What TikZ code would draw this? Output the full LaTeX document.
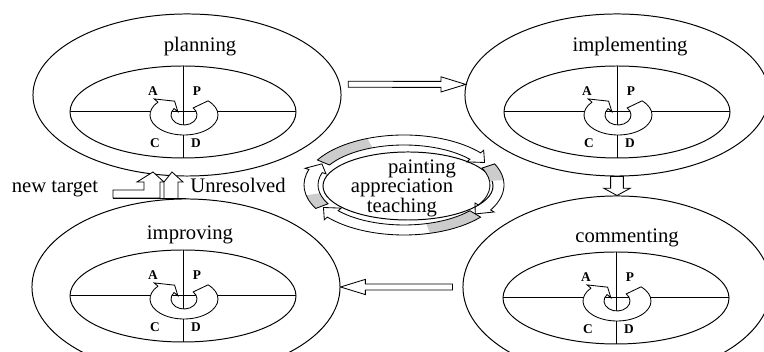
\documentclass[tikz,border=0pt]{standalone}
\usepackage{fontspec}
\setmainfont{Liberation Serif}
\usetikzlibrary{calc,shapes.geometric}

\tikzset{
  shaftw/.store in=\shaftw, shaftw=0.075cm,
  headw/.store in=\headw, headw=0.19cm,
  headlen/.store in=\headl, headlen=0.62cm,
  stage/.style={ellipse,draw,inner sep=0pt,minimum width=7.7cm,minimum height=4.05cm},
  stagename/.style={anchor=base,font=\fontsize{14.7}{17}\selectfont},
  letter/.style={inner sep=0pt,font=\bfseries\fontsize{9.5}{10}\selectfont},
  hollow/.style={line width=0.6pt,fill=white,to path={
      let \p1=(\tikztostart), \p2=(\tikztotarget),
          \n1={atan2(\y2-\y1,\x2-\x1)},
          \p3=($(\p2)!\headl!(\p1)$) in
      ($(\p1)+({\n1+90}:\shaftw)$) -- ($(\p3)+({\n1+90}:\shaftw)$)
      -- ($(\p3)+({\n1+90}:\headw)$) -- (\p2)
      -- ($(\p3)+({\n1-90}:\headw)$) -- ($(\p3)+({\n1-90}:\shaftw)$)
      -- ($(\p1)+({\n1-90}:\shaftw)$) -- cycle}}
}

\begin{document}
\begin{tikzpicture}[x=0.025cm,y=0.025cm,line width=0.7pt]
  \useasboundingbox (0,0) rectangle (764,352);
  \clip (0,0) rectangle (764,352);

  % the four stages
  \node[stage] (plan) at (187,257) {};
  \node[stage,minimum width=7.6cm] (impl) at (617,257) {};
  \node[stage,minimum height=4.4cm] (impr) at (186,65) {};
  \node[stage,minimum height=4.55cm] (comm) at (617,65) {};

  \node[stagename] (planT) at (200,300) {planning};
  \node[stagename] (implT) at (630,300) {implementing};
  \node[stagename] (imprT) at (190,112) {improving};
  \node[stagename] (commT) at (627,109) {commenting};

  % PDCA wheel in every stage
  \foreach \px/\py/\k in {183/240/pl,617/240/im,183/56/ip,616/54/cm}{
    \begin{scope}[shift={(\px,\py)}]
      \draw (0,0) ellipse[x radius=113,y radius=46];
      \draw (-113,0) -- (113,0);
      \draw (0,-46) -- (0,46);
      \begin{scope}[shift={(1,-3)}]
        \draw[fill=white,line width=0.6pt] (45:34 and 20)
          arc[start angle=45,end angle=-220,x radius=34,y radius=20]
          -- (-220:39 and 25) -- (-247:24 and 15) -- (-220:8 and 5)
          -- (-220:13 and 10)
          arc[start angle=-220,end angle=45,x radius=13,y radius=10] -- cycle;
      \end{scope}
      \node[letter] (\k A) at (-30,21) {A};
      \node[letter] (\k P) at (14,21) {P};
      \node[letter] (\k C) at (-28,-31) {C};
      \node[letter] (\k D) at (13,-31) {D};
    \end{scope}
  }

  % centre
  \node[ellipse,draw,minimum width=4.25cm,minimum height=1.7cm] (core) at (408,166) {};
  \node[align=center,inner sep=0pt,font=\fontsize{14.7}{13.9}\selectfont] (coreT) at (402,164)
    {\hspace*{1cm}painting\\appreciation\\teaching};

  \begin{scope}[shift={(404,167)}]
    \foreach \a/\b in {150/40,25/-30,-40/-140,-152/-198}{
      \pgfmathsetmacro\m{\a-0.35*(\a-\b)}
      \pgfmathsetmacro\t{\b-10}
      \fill[gray!40] (\a:100 and 50)
        arc[start angle=\a,end angle=\m,x radius=100,y radius=50]
        -- (\m:86 and 40)
        arc[start angle=\m,end angle=\a,x radius=86,y radius=40] -- cycle;
      \draw[line width=0.6pt] (\a:100 and 50)
        arc[start angle=\a,end angle=\b,x radius=100,y radius=50]
        -- (\b:104 and 54) -- (\t:93 and 45) -- (\b:82 and 36) -- (\b:86 and 40)
        arc[start angle=\b,end angle=\a,x radius=86,y radius=40] -- cycle;
    }
  \end{scope}

  % unresolved / new target
  \node[stagename] (newT) at (55,159) {new target};
  \node[stagename] (unres) at (238,159) {Unresolved};
  \draw[fill=white,line width=0.6pt] (113,154) -- (113,162) -- (144,162) -- (144,170)
    -- (137,170) -- (153,180) -- (164,170) -- (160,170) -- (160,154) -- cycle;
  \draw[fill=white,line width=0.6pt] (164,154) -- (164,170) -- (172,180) -- (183,170)
    -- (178,170) -- (178,154);
  \draw[line width=0.6pt] (113,154) -- (186,154);

  % connectors
  \draw[hollow] ([xshift=0.2cm]plan.4) to (impl.176);
  \draw[hollow,shaftw=0.16cm,headw=0.33cm,headlen=0.18cm] (impl.south) to (comm.north);
  \draw[hollow] ([xshift=-0.25cm]comm.west) to (impr.east);
\end{tikzpicture}
\end{document}
